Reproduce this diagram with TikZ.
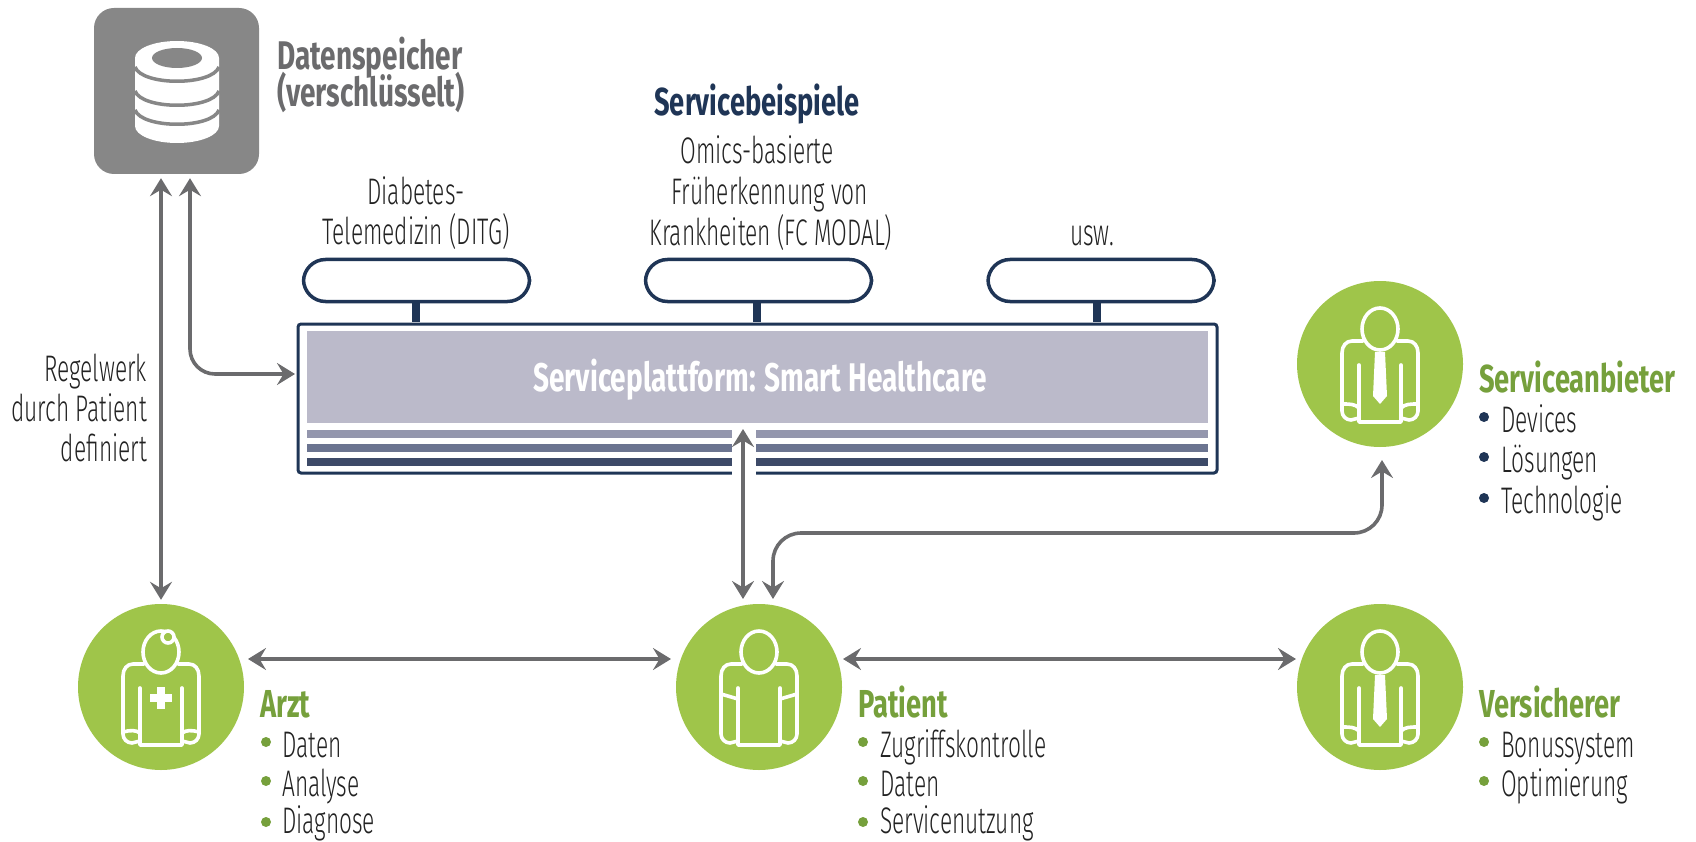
\documentclass[tikz,border=0pt]{standalone}
\usepackage{fontspec}
\usetikzlibrary{arrows.meta,calc}
\newfontfamily\thinf[FakeStretch=0.614]{Fira Sans Light}
\newfontfamily\boldf[FakeStretch=0.70]{Fira Sans Bold}
\definecolor{cgreen}{HTML}{9FC54A}
\definecolor{dgreen}{HTML}{76A03C}
\definecolor{navy}{HTML}{1F3556}
\definecolor{panel}{HTML}{BBBACA}
\definecolor{sa}{HTML}{9396AD}
\definecolor{sb}{HTML}{6B7490}
\definecolor{sc}{HTML}{3D4A68}
\definecolor{dbg}{HTML}{878787}
\definecolor{arr}{HTML}{6B6B6D}
\definecolor{ink}{HTML}{222222}
\tikzset{
 person/.style={circle,fill=cgreen,minimum size=166pt,inner sep=0pt},
 pill/.style={draw=navy,line width=3.5pt,fill=white,rounded corners=22pt,minimum width=226pt,minimum height=42pt,inner sep=0pt},
 stem/.style={fill=navy},
 conn/.style={draw=arr,line width=3.6pt,{Stealth[length=18pt,width=22pt,inset=6.5pt]}-{Stealth[length=18pt,width=22pt,inset=6.5pt]}},
 thin/.style={inner sep=0pt,text=ink,font=\thinf\fontsize{37}{37}\selectfont},
 headg/.style={inner sep=0pt,anchor=base west,text=dgreen,font=\boldf\fontsize{39}{39}\selectfont},
 head/.style={inner sep=0pt,font=\boldf\fontsize{40}{40}\selectfont},
 ico/.style={draw=white,line width=3.6pt,line cap=round,line join=round},
 bul/.pic={\fill[#1] (0,0) circle (5pt);},
 torso/.pic={
  \draw[ico] (-17,-23) -- (-28,-23) .. controls (-34,-23) and (-38,-18) .. (-38,-11) -- (-38,47) .. controls (-38,52) and (-34,56) .. (-29,56) -- (-21,54);
  \draw[ico] (17,-23) -- (28,-23) .. controls (34,-23) and (38,-18) .. (38,-11) -- (38,47) .. controls (38,52) and (34,56) .. (29,56) -- (21,54);
  \draw[ico] (-21,1) -- (-21,58) -- (21,58) -- (21,1);
  \draw[ico] (0,-35) ellipse (18pt and 21pt);
 },
}
\newcommand{\bulitem}[5]{%
 \pic at (#1,#3) {bul={#5}};
 \node[thin,anchor=base west] at (#2,#3+15) {#4};}
\newcommand{\bullast}[5]{%
 \pic at (#1,#3) {bul={#5}};
 \node[thin,anchor=base west] at (#2,#3+11) {#4};}
\begin{document}
\begin{tikzpicture}[x=1pt,y=-1pt]
\useasboundingbox (0,0) rectangle (1696,842);
% data store
\node[fill=dbg,rounded corners=20pt,minimum width=165pt,minimum height=166pt,inner sep=0pt] (db) at (176.5,91) {};
\fill[white] (135,58) -- (135,126) arc[start angle=180,end angle=360,x radius=42,y radius=-17] -- (219,58) arc[start angle=0,end angle=180,x radius=42,y radius=-17] -- cycle;
\fill[dbg] (177,58) ellipse (25pt and 10pt);
\draw[dbg,line width=3.5pt] (135,67) .. controls (142,86) and (212,86) .. (219,67);
\draw[dbg,line width=3.5pt] (135,91) .. controls (142,110) and (212,110) .. (219,91);
\draw[dbg,line width=3.5pt] (135,110) .. controls (142,129) and (212,129) .. (219,110);
\node[head,anchor=base west,text=arr] (dbt1) at (277,70) {Datenspeicher};
\node[head,anchor=base west,text=arr] (dbt2) at (277,107) {(verschlüsselt)};
% service examples
\node[head,text=navy,font=\boldf\fontsize{39}{39}\selectfont,anchor=base] (sb) at (757,116) {Servicebeispiele};
\node[thin,anchor=base] (t1) at (416,205) {Diabetes-};
\node[thin,anchor=base] (t2) at (416,245) {Telemedizin (DITG)};
\node[thin,anchor=base] (t3) at (757,164) {Omics-basierte};
\node[thin,anchor=base] (t4) at (770,205) {Früherkennung von};
\node[thin,anchor=base] (t5) at (771,246) {Krankheiten (FC MODAL)};
\node[thin,anchor=base] (t6) at (1092,246) {usw.};
\node[thin,anchor=base east] (r1) at (147,381) {Regelwerk};
\node[thin,anchor=base east] (r2) at (147,421) {durch Patient};
\node[thin,anchor=base east] (r3) at (147,461) {definiert};
% platform
\fill[stem] (412,300) rectangle (420,322);
\fill[stem] (753,300) rectangle (761,322);
\fill[stem] (1093,300) rectangle (1101,322);
\node[pill] (p1) at (416.5,280.5) {};
\node[pill] (p2) at (758.5,280.5) {};
\node[pill] (p3) at (1101,280.5) {};
\draw[navy,line width=3pt,rounded corners=3pt] (298,324) rectangle (1217,473);
\node[fill=panel,minimum width=901pt,minimum height=92pt,inner sep=0pt] (plat) at (757.5,377) {};
\node[head,text=white,anchor=base] (platt) at (760,391) {Serviceplattform: Smart Healthcare};
\fill[sa] (307,430) rectangle (1208,438);
\fill[sb] (307,444) rectangle (1208,452);
\fill[sc] (307,458) rectangle (1208,466);
\fill[white] (732,426) rectangle (756,478);
% persons
\node[person] (arzt) at (161,687) {};
\node[person] (pat) at (759,687) {};
\node[person] (vers) at (1380,687) {};
\node[person] (anb) at (1380,364) {};
% icons
\pic at (161,687) {torso};
\draw[ico] (123,732) .. controls (130,730) and (136,730) .. (140,733);
\draw[ico] (199,732) .. controls (192,730) and (186,730) .. (182,733);
\filldraw[ico,fill=cgreen] (168,637) circle (6pt);
\fill[white] (157,687) rectangle (165,709);
\fill[white] (150,694) rectangle (172,702);
\pic at (759,687) {torso};
\draw[ico] (721,694) -- (738,699);
\draw[ico] (797,694) -- (780,699);
\pic at (1380,687) {torso};
\fill[white] (1375,675) -- (1385,675) -- (1387,719) -- (1380,727) -- (1373,719) -- cycle;
\draw[ico] (1342,727) .. controls (1350,727) and (1355,727) .. (1359,731);
\draw[ico] (1418,727) .. controls (1410,727) and (1405,727) .. (1401,731);
\pic at (1380,364) {torso};
\fill[white] (1375,352) -- (1385,352) -- (1387,396) -- (1380,404) -- (1373,396) -- cycle;
\draw[ico] (1342,404) .. controls (1350,404) and (1355,404) .. (1359,408);
\draw[ico] (1418,404) .. controls (1410,404) and (1405,404) .. (1401,408);
% connectors
\draw[conn,shorten <=4pt,shorten >=4pt] (arzt.north) -- (arzt.north |- db.south);
\coordinate (dbp) at ([xshift=13.5pt]db.south);
\coordinate (pin) at (295,374);
\draw[conn,rounded corners=25pt,shorten <=4pt] (dbp) |- (pin);
\coordinate (pdn) at (743,599);
\coordinate (pup) at (743,429);
\draw[conn] (pdn) -- (pup);
\coordinate (pat2) at (773,599);
\coordinate (anbin) at (1382,460);
\coordinate (mid) at (1000,533);
\draw[conn,rounded corners=28pt] (pat2) -- (pat2 |- mid) -- (anbin |- mid) -- (anbin);
\coordinate (h1) at (248,659);
\coordinate (h2) at (671,659);
\coordinate (h3) at (843,659);
\coordinate (h4) at (1296,659);
\draw[conn] (h1) -- (h2);
\draw[conn] (h3) -- (h4);
% labels
\node[headg] (la) at (260,717) {Arzt};
\bulitem{266}{282}{742}{Daten}{dgreen}
\bulitem{266}{282}{781}{Analyse}{dgreen}
\bullast{266}{282}{822}{Diagnose}{dgreen}
\node[headg] (lp) at (858,717) {Patient};
\bulitem{863}{880}{742}{Zugriffskontrolle}{dgreen}
\bulitem{863}{880}{781}{Daten}{dgreen}
\bullast{863}{880}{822}{Servicenutzung}{dgreen}
\node[headg] (lv) at (1479,717) {Versicherer};
\bulitem{1484}{1501}{742}{Bonussystem}{dgreen}
\bulitem{1484}{1501}{781}{Optimierung}{dgreen}
\node[headg] (ls) at (1479,392) {Serviceanbieter};
\bulitem{1484}{1501}{417}{Devices}{navy}
\bulitem{1484}{1501}{457}{Lösungen}{navy}
\bulitem{1484}{1501}{498}{Technologie}{navy}
\end{tikzpicture}
\end{document}
